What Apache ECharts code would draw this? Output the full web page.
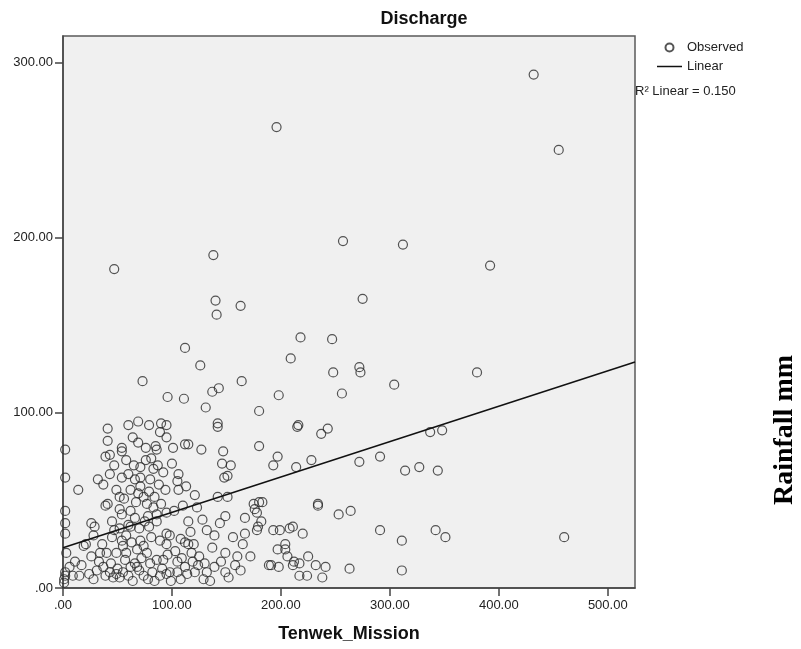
<!DOCTYPE html>
<html>
<head>
<meta charset="utf-8">
<script src="https://cdn.jsdelivr.net/npm/echarts@6/dist/echarts.min.js"></script>
<style>
  html, body { margin: 0; padding: 0; background: #fff; }
  #chart { width: 801px; height: 649px; }
</style>
</head>
<body>
<div id="chart"></div>
<script>
// Tenwek_Mission (x) vs Discharge (y)
const observed = [
  [432,293],[455,250],[312,196],[392,184],[275,165],[196,263],[47,182],[138,190],[257,198],[140,164],
  [163,161],[141,156],[112,137],[126,127],[218,143],[247,142],[209,131],[248,123],[272,126],[273,123],
  [73,118],[164,118],[143,114],[137,112],[131,103],[96,109],[111,108],[180,101],[142,94],[142,92],
  [95,93],[95,86],[101,80],[112,82],[115,82],[127,79],[147,78],[146,71],[154,70],[148,63],[151,64],
  [180,81],[193,70],[198,110],[256,111],[304,116],[216,93],[215,92],[237,88],[243,91],[337,89],
  [348,90],[197,75],[214,69],[228,73],[272,72],[291,75],[314,67],[327,69],[344,67],[234,48],
  [234,47],[253,42],[264,44],[291,33],[311,27],[342,33],[351,29],[311,10],[263,11],[193,33],
  [199,33],[208,34],[211,35],[220,31],[197,22],[204,22],[204,25],[206,18],[212,15],[217,14],
  [211,13],[225,18],[232,13],[241,12],[198,12],[191,13],[217,7],[224,7],[238,6],[460,29],[380,123],
  [106,65],[105,61],[106,56],[113,58],[121,53],[142,52],[151,52],[95,43],[110,47],[115,38],
  [128,39],[149,41],[144,37],[132,33],[139,30],[167,40],[178,43],[183,49],[180,49],[182,38],
  [178,33],[167,31],[156,29],[165,25],[172,18],[163,10],[189,13],[149,20],[149,9],[160,18],
  [137,23],[132,9],[139,12],[129,5],[119,15],[121,9],[112,12],[109,17],[115,25],[105,15],
  [96,19],[98,9],[95,25],[95,31],[98,30],[112,26],[120,25],[124,13],[105,9],[176,45],[179,35],[175,48],
  [41,91],[60,93],[69,95],[79,93],[90,94],[41,84],[69,83],[89,89],[85,81],[86,79],
  [39,75],[43,76],[54,80],[54,78],[58,73],[65,70],[71,69],[76,73],[81,74],[87,70],
  [2,79],[2,63],[43,65],[54,63],[32,62],[37,59],[14,56],[71,63],[80,62],[88,59],
  [94,56],[49,56],[52,52],[56,51],[71,58],[69,54],[74,52],[79,55],[84,52],[67,49],
  [77,48],[39,47],[41,48],[52,45],[54,42],[62,44],[2,44],[2,37],[2,31],[26,37],
  [29,35],[60,36],[62,35],[78,41],[86,42],[45,38],[52,34],[70,34],[79,35],[86,38],
  [28,30],[19,24],[36,25],[45,29],[54,27],[55,24],[63,26],[71,27],[74,24],[81,29],
  [89,27],[3,20],[11,15],[17,13],[26,18],[34,20],[40,20],[49,20],[58,20],[68,22],
  [77,20],[86,16],[92,16],[66,14],[2,9],[2,7],[9,7],[15,7],[28,5],[37,12],
  [43,9],[49,8],[52,6],[60,7],[70,10],[78,5],[82,9],[89,7],[95,8],[31,10],
  [39,7],[46,6],[55,9],[68,12],[74,7],[1,3],[1,5],
  [44,14],[50,11],[57,16],[62,12],[64,4],[72,17],[80,14],[84,4],[91,11],[99,4],
  [103,21],[108,5],[114,8],[118,20],[125,18],[130,14],[135,4],[145,15],[152,6],[158,13],
  [24,8],[21,25],[33,15],[6,12],[47,33],[58,30],[66,40],[75,38],[83,46],[90,48],
  [62,56],[66,62],[47,70],[92,66],[100,71],[102,44],[108,28],[117,32],[123,46],[60,65],
  [76,80],[64,86],[83,68]
];

// fitted line, ends (R2 = 0.150)
const fitLine = [[0, 23], [525, 129]];

const xTicks = [0, 100, 200, 300, 400, 500];
const yTicks = [0, 100, 200, 300];

const fontSans = '"Liberation Sans", Arial, sans-serif';
const fmt = v => (v === 0 ? '.00' : v.toFixed(2));

const chart = echarts.init(document.getElementById('chart'), null, { renderer: 'canvas' });

chart.setOption({
  animation: false,
  backgroundColor: '#ffffff',
  grid: {
    left: 63, right: 166, top: 36, bottom: 61,
    show: true,
    backgroundColor: '#f0f0f0',
    borderColor: '#5a5a5a',
    borderWidth: 1.5,
    outerBoundsMode: 'none'
  },
  legend: {
    orient: 'vertical',
    left: 652,
    top: 36,
    itemWidth: 25,
    itemHeight: 8,
    itemGap: 6,
    textStyle: { fontFamily: fontSans, fontSize: 13, color: '#222' },
    data: [
      { name: 'Observed', icon: 'circle' },
      { name: 'Linear', icon: 'path://M0,0 L20,0 L20,1.2 L0,1.2 Z' }
    ]
  },
  xAxis: {
    type: 'value',
    min: 0, max: 525,
    name: 'Tenwek_Mission',
    nameLocation: 'middle',
    nameGap: 37,
    nameTextStyle: { fontFamily: fontSans, fontSize: 18, fontWeight: 'bold', color: '#111' },
    splitLine: { show: false },
    axisLine: { show: true, lineStyle: { color: '#444', width: 1.5 } },
    axisTick: { show: true, length: 8, customValues: xTicks, lineStyle: { color: '#444', width: 1.5 } },
    axisLabel: { customValues: xTicks, formatter: fmt, margin: 11, fontFamily: fontSans, fontSize: 13, color: '#222' }
  },
  yAxis: {
    type: 'value',
    min: 0, max: 315,
    splitLine: { show: false },
    axisLine: { show: true, lineStyle: { color: '#444', width: 1.5 } },
    axisTick: { show: true, length: 8, customValues: yTicks, lineStyle: { color: '#444', width: 1.5 } },
    axisLabel: { customValues: yTicks, formatter: fmt, margin: 10, fontFamily: fontSans, fontSize: 13, color: '#222' }
  },
  graphic: [
    {
      type: 'text', x: 424, y: 19,
      style: { text: 'Discharge', font: 'bold 18px "Liberation Sans", Arial, sans-serif', fill: '#111', textAlign: 'center', textVerticalAlign: 'middle' }
    },
    {
      type: 'text', x: 635, y: 91,
      style: { text: 'R\u00b2 Linear = 0.150', font: '13px "Liberation Sans", Arial, sans-serif', fill: '#222', textAlign: 'left', textVerticalAlign: 'middle' }
    },
    {
      type: 'text', x: 785, y: 430, rotation: Math.PI / 2,
      style: { text: 'Rainfall mm', font: 'bold 28px "Liberation Serif", "Times New Roman", serif', fill: '#000', textAlign: 'center', textVerticalAlign: 'middle' }
    }
  ],
  series: [
    {
      name: 'Observed',
      type: 'scatter',
      data: observed,
      symbol: 'circle',
      symbolSize: 9,
      clip: true,
      itemStyle: { color: 'rgba(0,0,0,0)', borderColor: '#2a2a2a', borderWidth: 1.2 }
    },
    {
      name: 'Linear',
      type: 'line',
      data: fitLine,
      symbol: 'none',
      lineStyle: { color: '#111', width: 1.5 },
      itemStyle: { color: '#111' }
    }
  ]
});
</script>
</body>
</html>
